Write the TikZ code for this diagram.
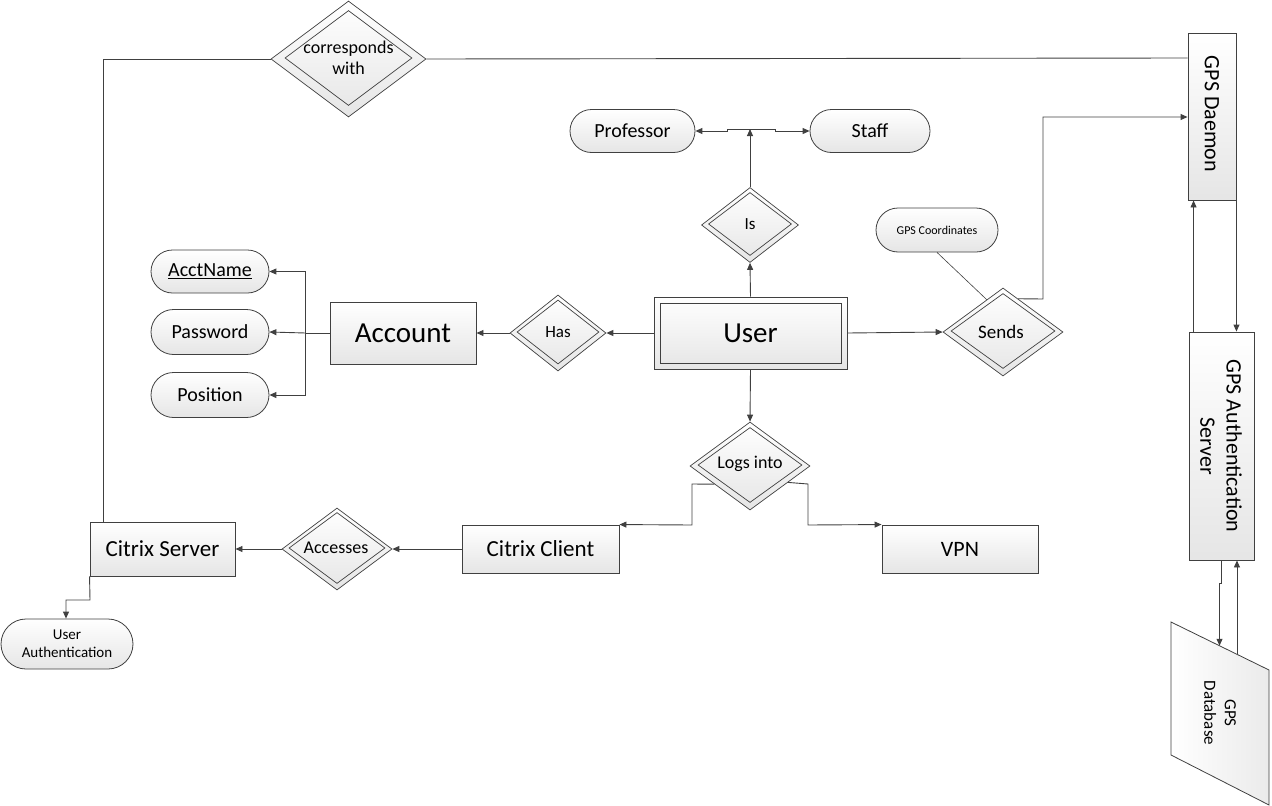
\documentclass[tikz,border=0pt]{standalone}
\usepackage{fontspec}
\setmainfont{Carlito}
\usetikzlibrary{shapes.geometric,shapes.misc,arrows.meta,calc}
\definecolor{lc}{HTML}{404040}
\newcommand\fsz[1]{\fontsize{#1}{1.2\dimexpr#1pt\relax}\selectfont}
\tikzset{
  ln/.style={draw=lc, line width=0.9pt},
  arr/.style={ln, -{Triangle[length=7pt,width=6pt]}},
  arrb/.style={ln, {Triangle[length=7pt,width=6pt]}-{Triangle[length=7pt,width=6pt]}},
  boxfill/.style={top color=white, bottom color=black!10},
  ent/.style={rectangle, draw=lc, line width=0.9pt, boxfill, inner sep=0pt, align=center},
  attr/.style={rounded rectangle, draw=lc, line width=0.8pt, boxfill, inner sep=0pt, align=center},
  relout/.style={diamond, draw=lc, line width=0.7pt, boxfill, inner sep=0pt},
  relin/.style={diamond, draw=lc, line width=0.7pt, inner sep=0pt},
  lbl/.style={inner sep=0pt, align=center, text=black},
  fs/.style={font={\fsz{#1}}},
}
\begin{document}
\begin{tikzpicture}[x=1pt,y=-1pt]
\useasboundingbox (0,0) rectangle (1272,806);

% ---------- entities ----------
\node[ent, minimum width=193, minimum height=72] (userO) at (750.5,333) {};
\node[rectangle, draw=lc, line width=0.9pt, minimum width=181, minimum height=60, inner sep=0pt, fs=29] (user) at (750.5,333) {User};
\node[ent, minimum width=146, minimum height=62, fs=29] (acct) at (403,333) {Account};
\node[ent, minimum width=157, minimum height=48, fs=23] (cc) at (540.5,549) {Citrix Client};
\node[ent, minimum width=156, minimum height=48, fs=22] (vpn) at (960,549) {VPN};
\node[ent, minimum width=145, minimum height=54, fs=23] (cs) at (162.5,549) {Citrix Server};
\node[ent, minimum width=48, minimum height=167] (gpsd) at (1212,116.5) {};
\node[lbl, rotate=-90, fs=22] (gpsdT) at (1212,114) {GPS Daemon};
\node[ent, minimum width=65, minimum height=228] (gpsa) at (1221.5,446) {};
\node[lbl, rotate=-90, fs=22] (gpsaT) at (1221,446) {GPS Authentication\\Server};

% ---------- database ----------
\coordinate (db1) at (1171,622);
\coordinate (db2) at (1269,670);
\coordinate (db3) at (1269,805);
\coordinate (db4) at (1171,755);
\draw[ln, line width=0.8pt, left color=white, right color=black!8] (db1) -- (db2) -- (db3) -- (db4) -- cycle;
\node[lbl, rotate=-90, fs=17] (dbT) at (1220,713) {GPS\\Database};

% ---------- attributes ----------
\node[attr, minimum width=125, minimum height=43, fs=20] (prof) at (632.5,131) {Professor};
\node[attr, minimum width=120, minimum height=43, fs=20] (staff) at (870,131) {Staff};
\node[attr, minimum width=118, minimum height=43, fs=20] (acn) at (210,271.5) {\underline{AcctName}};
\node[attr, minimum width=118, minimum height=45, fs=20] (pwd) at (210,332) {Password};
\node[attr, minimum width=118, minimum height=45, fs=20] (pos) at (210,395) {Position};
\node[attr, minimum width=122, minimum height=44, fs=12] (gpsc) at (937,230) {GPS Coordinates};
\node[attr, minimum width=132, minimum height=50, fs=15] (ua) at (67,644) {User\\Authentication};

% ---------- relationships ----------
\node[relout, minimum width=155, minimum height=116] (cwO) at (348.5,59) {};
\node[relin, minimum width=127, minimum height=95] (cwI) at (348.5,58) {};
\node[lbl, fs=18] (cwT) at (348.5,58) {corresponds\\with};

\node[relout, minimum width=97, minimum height=75] (isO) at (750,225) {};
\node[relin, minimum width=83, minimum height=63] (isI) at (750,224) {};
\node[lbl, fs=17] (isT) at (750,224) {Is};

\node[relout, minimum width=96, minimum height=76] (hasO) at (558,333) {};
\node[relin, minimum width=82, minimum height=64] (hasI) at (558,332) {};
\node[lbl, fs=17] (hasT) at (558,332) {Has};

\node[relout, minimum width=120, minimum height=88] (sendsO) at (1003,332) {};
\node[relin, minimum width=104, minimum height=75] (sendsI) at (1003,331) {};
\node[lbl, fs=19] (sendsT) at (1001,332) {Sends};

\node[relout, minimum width=120, minimum height=88] (logO) at (750,466) {};
\node[relin, minimum width=104, minimum height=75] (logI) at (750,465) {};
\node[lbl, fs=18] (logT) at (750,464) {Logs into};

\node[relout, minimum width=110, minimum height=82] (accO) at (337,549) {};
\node[relin, minimum width=96, minimum height=71] (accI) at (337,548) {};
\node[lbl, fs=18] (accT) at (336,548) {Accesses};

% ---------- connectors ----------
% corresponds with
\draw[ln] (cwO.west) -- (103,59) -- (cs.north -| 103,0);
\draw[ln] (cwO.east) -- (gpsd.west |- 0,58);

% Is
\draw[arr] (userO.north) -- (isO.south);
\coordinate (pj) at (750,129);
\draw[arr] (isO.north) -- (pj);
\draw[arrb] (prof.east) -- (727,131) -- (727,129) -- (775,129) -- (775,131) -- (staff.west);

% Has / Account attributes
\draw[arr] (userO.west) -- (hasO.east);
\draw[arr] (hasO.west) -- (acct.east);
\coordinate (aj) at (305.5,333);
\draw[ln] (acct.west) -- (aj);
\draw[arr] (aj) -- (305.5,271.5) -- (acn.east);
\draw[arr] (aj) -- (pwd.east);
\draw[arr] (aj) -- (305.5,395) -- (pos.east);

% Sends
\draw[arr] (userO.east) -- (sendsO.west);
\coordinate (sd1) at ($(sendsO.north)!0.25!(sendsO.east)$);
\coordinate (sd2) at ($(sendsO.north)!0.27!(sendsO.west)$);
\draw[arr] (sd1) -- (1043,299) -- (1043,117) -- (gpsd.west |- 0,117);
\draw[ln, line width=0.6pt] (gpsc.south) -- (sd2);

% GPS Daemon <-> Auth server
\draw[arr] ($(gpsa.north west)+(5,0)$) -- ($(gpsd.south west)+(6,0)$);
\draw[arr] (gpsd.south east) -- (gpsa.north -| gpsd.south east);

% Auth server <-> Database
\coordinate (dbin) at ($(db1)!0.495!(db2)$);
\coordinate (dbout) at ($(db1)!0.673!(db2)$);
\draw[arr] (gpsa.south) -- ++(0,23) -- ++(-2,0) -- (dbin);
\draw[arr] (dbout) -- (gpsa.south -| dbout);

% Logs into
\draw[arr] (userO.south) -- (logO.north);
\coordinate (lg1) at ($(logO.west)!0.41!(logO.south)$);
\coordinate (lg2) at ($(logO.east)!0.37!(logO.south)$);
\draw[arr] (lg1) -- (692,484) -- (692,525) -- (cc.north east);
\draw[arr] (lg2) -- (808,484) -- (808,525) -- (vpn.north west);

% Accesses
\draw[arr] (cc.west) -- (accO.east);
\draw[arr] (accO.west) -- (cs.east);

% Citrix Server -> User Authentication
\draw[arr] (cs.south west) -- (90,600) -- (66,600) -- (ua.north -| 66,0);
\end{tikzpicture}
\end{document}
